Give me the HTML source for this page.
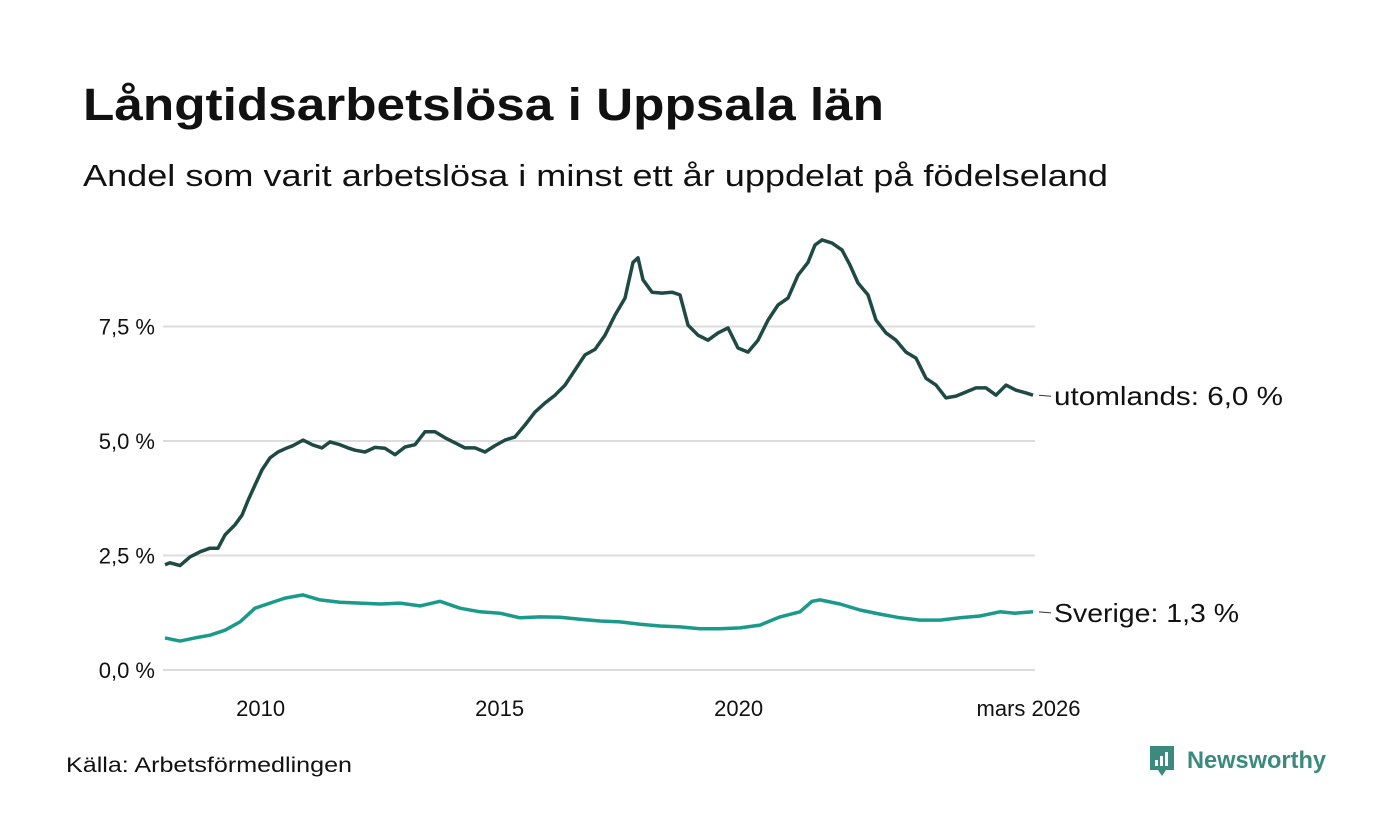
<!DOCTYPE html>
<html><head><meta charset="utf-8"><style>
body{margin:0;background:#fff;width:1400px;height:840px;overflow:hidden;font-family:"Liberation Sans","DejaVu Sans",sans-serif;}
</style></head><body>
<svg width="1400" height="840" style="position:absolute;left:0;top:0">
<text x="83" y="120" font-size="45" font-weight="bold" fill="#111" textLength="801" lengthAdjust="spacingAndGlyphs">Långtidsarbetslösa i Uppsala län</text>
<text x="83" y="186" font-size="31" fill="#111" textLength="1025" lengthAdjust="spacingAndGlyphs">Andel som varit arbetslösa i minst ett år uppdelat på födelseland</text>
<g id="grid"></g><g id="xt"></g><g id="lines"></g>
<text x="66" y="772" font-size="21" fill="#111" textLength="286" lengthAdjust="spacingAndGlyphs">Källa: Arbetsförmedlingen</text>
<g>
<path d="M1150 746h24v24h-8l-4 6-4-6h-8z" fill="#3a8a7e"/>
<rect x="1155" y="760" width="3" height="6" fill="#fff"/><rect x="1160" y="756" width="3" height="10" fill="#fff"/><rect x="1165" y="752" width="3" height="14" fill="#fff"/>
<text x="1187" y="768" font-size="24" font-weight="bold" fill="#3a8a7e" textLength="139" lengthAdjust="spacingAndGlyphs">Newsworthy</text>
</g>
</svg>
<script>
const yTicks=[0,2.5,5,7.5];
const yTickLabels=["0,0 %","2,5 %","5,0 %","7,5 %"];
const xTicks=[2010,2015,2020,2026.17];
const xTickLabels=["2010","2015","2020","mars 2026"];
const darkX=[165,170,180,190,200,210,218,225,235,242,248,255,262,270,278,285,293,303,313,322,330,340,348,355,365,375,385,395,405,415,425,435,445,455,465,475,485,495,505,515,525,535,545,555,565,575,585,595,605,615,625,633,638,643,652,662,672,680,688,698,708,718,728,738,748,758,768,778,788,798,808,815,822,832,842,850,858,868,876,886,896,906,916,926,936,946,956,966,976,986,996,1006,1016,1026,1033];
const darkYears=darkX.map(x=>2008+(x-165)/47.8);
const darkValues=[2.3,2.34,2.28,2.47,2.58,2.66,2.66,2.95,3.17,3.38,3.7,4.04,4.37,4.63,4.76,4.83,4.9,5.02,4.91,4.85,4.98,4.92,4.85,4.8,4.76,4.86,4.84,4.7,4.87,4.92,5.2,5.2,5.07,4.96,4.85,4.85,4.76,4.9,5.02,5.09,5.35,5.63,5.83,6.0,6.22,6.55,6.88,7.0,7.31,7.75,8.12,8.9,9.0,8.52,8.25,8.23,8.25,8.19,7.53,7.31,7.2,7.36,7.47,7.03,6.94,7.2,7.64,7.97,8.12,8.62,8.9,9.28,9.39,9.32,9.17,8.84,8.45,8.19,7.64,7.36,7.2,6.94,6.81,6.37,6.22,5.94,5.98,6.07,6.16,6.16,6.0,6.22,6.11,6.05,6.0];
const lightX=[165,180,195,210,225,240,255,270,285,303,320,340,360,380,400,420,440,460,480,500,520,540,560,580,600,620,640,660,680,700,720,740,760,780,800,812,820,840,860,880,900,920,940,960,980,1000,1015,1033];
const lightYears=lightX.map(x=>2008+(x-165)/47.8);
const lightValues=[0.7,0.63,0.7,0.76,0.87,1.05,1.35,1.46,1.57,1.64,1.53,1.48,1.46,1.44,1.46,1.4,1.5,1.35,1.27,1.24,1.14,1.16,1.15,1.11,1.07,1.05,1.0,0.96,0.94,0.9,0.9,0.92,0.98,1.16,1.27,1.5,1.53,1.44,1.31,1.22,1.14,1.09,1.09,1.14,1.18,1.27,1.24,1.27];
const NS="http://www.w3.org/2000/svg";
const X=t=>165+(t-2008)*47.8;
const Y=v=>670-v*45.8;
function mk(tag,attrs,parent,txt){const e=document.createElementNS(NS,tag);for(const k in attrs)e.setAttribute(k,attrs[k]);if(txt!==undefined)e.textContent=txt;document.getElementById(parent).appendChild(e);return e;}
yTicks.forEach((v,i)=>{
 const l=mk('line',{x1:163,x2:1035,y1:Y(v),y2:Y(v),stroke:'#dcdcdc','stroke-width':2},'grid');
 
 
 const t=mk('text',{x:155,y:Y(v)+8,'font-size':22,fill:'#111','text-anchor':'end'},'grid',yTickLabels[i]);
 
 
});
xTicks.forEach((v,i)=>{
 const t=mk('text',{x:X(v)+(i==3?-5:0),y:716,'font-size':22,fill:'#111','text-anchor':'middle'},'xt',xTickLabels[i]);
 
 
});
function draw(xs,vs,color,name,label,w){
 const d=xs.map((t,i)=>(i?'L':'M')+X(t).toFixed(1)+' '+Y(vs[i]).toFixed(1)).join(' ');
 const p=mk('path',{d:d,fill:'none',stroke:color,'stroke-width':3.5,'stroke-linejoin':'round'},'lines');
 
 
 const lx=X(xs[xs.length-1]),ly=Y(vs[vs.length-1]);
 mk('line',{x1:lx+6,x2:lx+18,y1:ly,y2:ly+1,stroke:'#333','stroke-width':1},'lines');
 const t=mk('text',{x:lx+21,y:ly+10,'font-size':26,fill:'#111',textLength:w,lengthAdjust:'spacingAndGlyphs'},'lines',label);
 
 
}
draw(darkYears,darkValues,'#1f4a44','line-utomlands','utomlands: 6,0 %',229);
draw(lightYears,lightValues,'#1a9a8a','line-sverige','Sverige: 1,3 %',185);
</script>
</body></html>
